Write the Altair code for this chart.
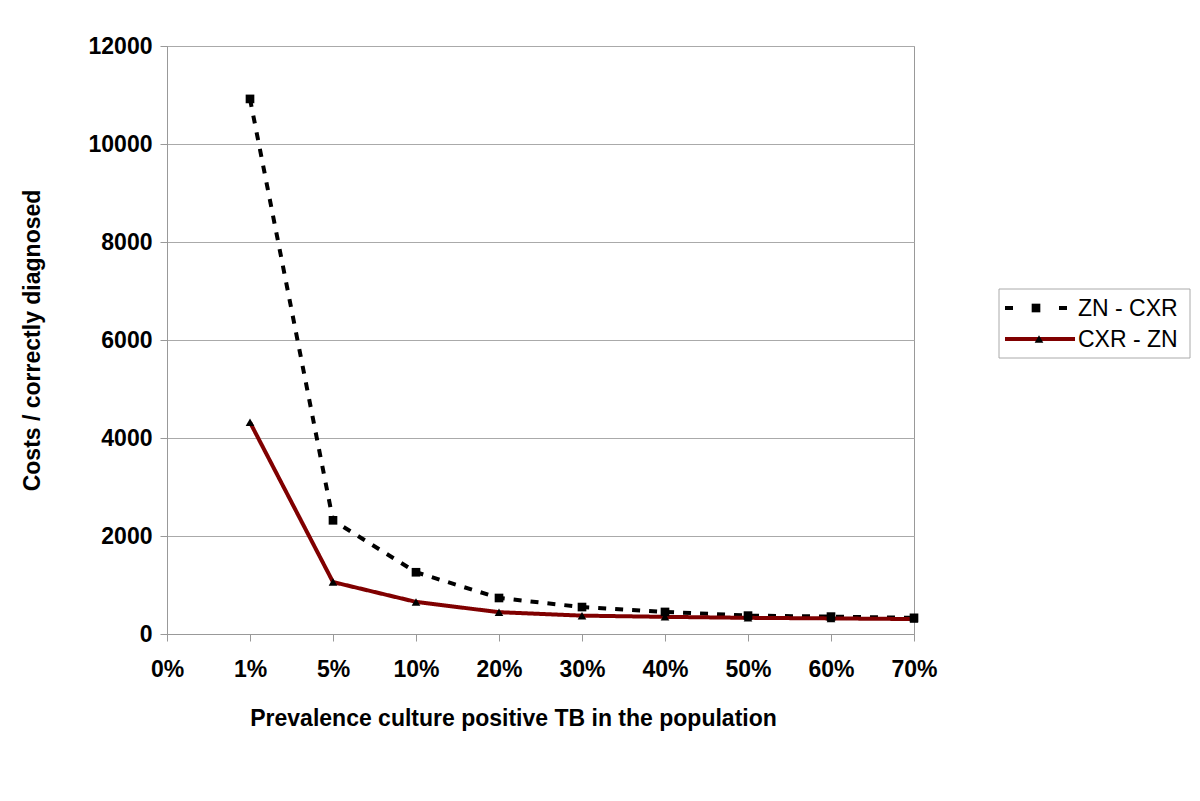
import altair as alt
import pandas as pd

categories = ["0%", "1%", "5%", "10%", "20%", "30%", "40%", "50%", "60%", "70%"]
data_categories = ["1%", "5%", "10%", "20%", "30%", "40%", "50%", "60%", "70%"]
zn_cxr = [10920, 2320, 1260, 735, 550, 450, 375, 355, 330]
cxr_zn = [4320, 1060, 655, 445, 375, 350, 330, 318, 305]
series = ["ZN - CXR", "CXR - ZN"]
series_colors = ["#000000", "#800000"]

rows = []
for c, v in zip(data_categories, zn_cxr):
    rows.append({"prev": c, "cost": v, "series": series[0]})
for c, v in zip(data_categories, cxr_zn):
    rows.append({"prev": c, "cost": v, "series": series[1]})
df = pd.DataFrame(rows)

FONT = "Liberation Sans"
FS = 23
W, H = 747, 588

x_enc = alt.X("prev:O", sort=categories,
              scale=alt.Scale(domain=categories, type="point", padding=0),
              axis=alt.Axis(title="Prevalence culture positive TB in the  population",
                            labelAngle=0, labelPadding=17, titlePadding=26,
                            titleX=346, titleAlign="center"))
y_enc = alt.Y("cost:Q", scale=alt.Scale(domain=[0, 12000], nice=False),
              axis=alt.Axis(title="Costs / correctly diagnosed", values=list(range(0, 12001, 2000)),
                            labelPadding=8, titlePadding=44, format="d"))

lines = alt.Chart(df).mark_line(strokeWidth=4).encode(
    x=x_enc, y=y_enc,
    color=alt.Color("series:N", scale=alt.Scale(domain=series, range=series_colors), legend=None),
    strokeDash=alt.StrokeDash("series:N", scale=alt.Scale(domain=series, range=[[8, 9], [1, 0]]),
                              legend=None),
)

points = alt.Chart(df).mark_point(filled=True, size=75, opacity=1, color="#000").encode(
    x=x_enc, y=y_enc,
    shape=alt.Shape("series:N", scale=alt.Scale(domain=series, range=["square", "triangle-up"]),
                    legend=None),
)

# manual legend (positions in pixels relative to the plot area)
legend_df = pd.DataFrame({"label": series})
box = alt.Chart(legend_df.head(1)).mark_rect(fill="white", stroke="#aaaaaa", strokeWidth=1).encode(
    x=alt.value(832), x2=alt.value(1023), y=alt.value(243), y2=alt.value(312))

row_y = [262, 293]
legend_layers = [box]
for i, (lab, col) in enumerate(zip(series, series_colors)):
    sub = alt.Chart(legend_df.iloc[[i]])
    if i == 0:
        ln = sub.mark_rule(color=col, strokeWidth=4, strokeDash=[8, 19]).encode(
            x=alt.value(838), x2=alt.value(901), y=alt.value(row_y[i]))
        mx = 869
    else:
        ln = sub.mark_rule(color=col, strokeWidth=4).encode(
            x=alt.value(838), x2=alt.value(908), y=alt.value(row_y[i]))
        mx = 872
    pt = sub.mark_point(filled=True, size=75, opacity=1, color="#000",
                        shape=["square", "triangle-up"][i]).encode(
        x=alt.value(mx), y=alt.value(row_y[i]))
    tx = sub.mark_text(align="left", baseline="middle", font=FONT, fontSize=FS, color="#000").encode(
        x=alt.value(911), y=alt.value(row_y[i] + 1), text="label:N")
    legend_layers += [ln, pt, tx]

chart = alt.layer(lines, points, *legend_layers).properties(
    width=W, height=H,
    autosize=alt.AutoSizeParams(type="none"),
    padding={"left": 159, "top": 38, "right": 277, "bottom": 150},
).configure_view(stroke="#999999", strokeWidth=1).configure_axis(
    labelFont=FONT, labelFontSize=FS, labelFontWeight="bold", labelColor="#000",
    titleFont=FONT, titleFontSize=FS, titleFontWeight="bold", titleColor="#000",
    domainColor="#999999", tickColor="#999999", tickSize=7, gridColor="#aaaaaa",
).configure_axisX(grid=False).configure_axisY(grid=True)

chart.save("out.html", embed_options={"renderer": "svg", "actions": False})
